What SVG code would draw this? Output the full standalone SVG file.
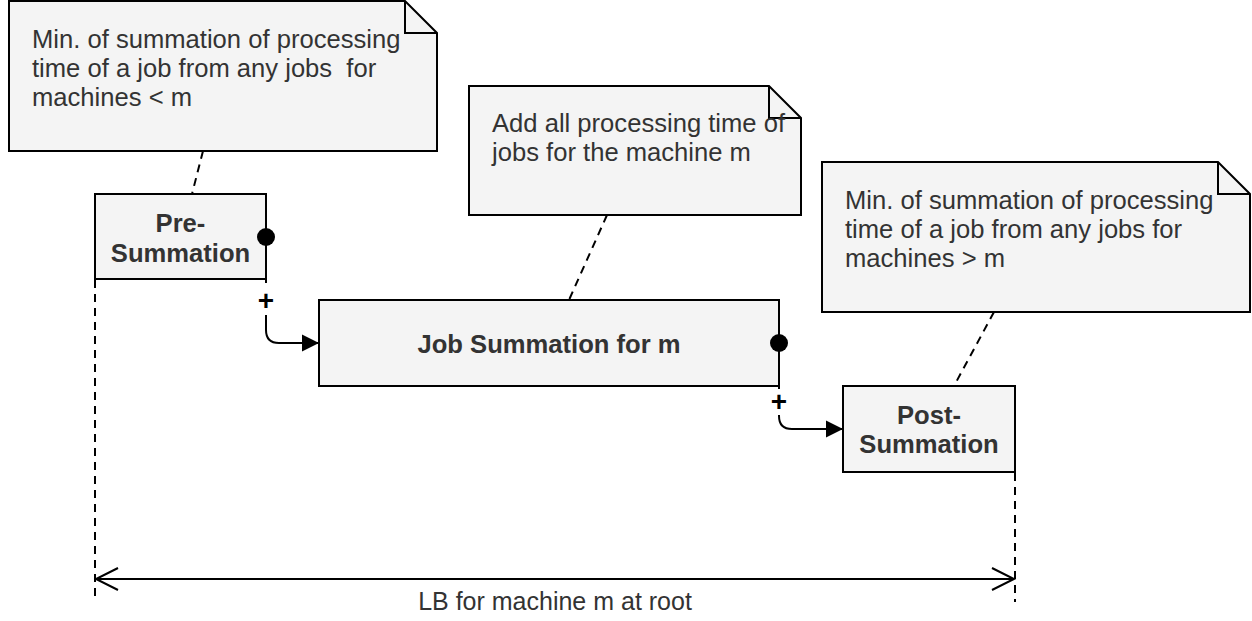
<svg xmlns="http://www.w3.org/2000/svg" width="1252" height="621" viewBox="0 0 1252 621">
  <style>
    .box { fill: #f4f4f4; stroke: #000; stroke-width: 2; }
    .fold { fill: none; stroke: #000; stroke-width: 2; stroke-linejoin: miter; }
    .note-text { font-family: "Liberation Sans", Arial, sans-serif; font-size: 25.6px; fill: #333; }
    .label { font-family: "Liberation Sans", Arial, sans-serif; font-size: 25.6px; font-weight: bold; fill: #333; text-anchor: middle; }
    .plus { font-family: "Liberation Sans", Arial, sans-serif; font-size: 28px; font-weight: bold; fill: #000; text-anchor: middle; }
    .dim-text { font-family: "Liberation Sans", Arial, sans-serif; font-size: 25px; fill: #333; text-anchor: middle; }
    .edge { fill: none; stroke: #000; stroke-width: 2; }
    .dashed { fill: none; stroke: #000; stroke-width: 2; stroke-dasharray: 8 6; }
    .dot { fill: #000; }
  </style>
  <defs>
    <marker id="arrow" markerUnits="userSpaceOnUse" markerWidth="20" markerHeight="20" refX="17" refY="9" orient="auto">
      <path d="M0,0.5 L17,9 L0,17.5 Z" fill="#000"/>
    </marker>
    <marker id="open" markerUnits="userSpaceOnUse" markerWidth="26" markerHeight="26" refX="23" refY="13" orient="auto-start-reverse">
      <path d="M1,2 L23,13 L1,24" fill="none" stroke="#000" stroke-width="2"/>
    </marker>
  </defs>

  <!-- connectors -->
  <g id="connectors">
    <!-- note anchors -->
    <line class="dashed" x1="203" y1="151" x2="192" y2="194"/>
    <line class="dashed" x1="607" y1="215" x2="569" y2="300"/>
    <line class="dashed" x1="994" y1="312" x2="954" y2="386"/>

    <!-- Pre-Summation to Job Summation -->
    <path class="edge" d="M266,237 V283"/>
    <path class="edge" d="M266,315 V330 Q266,343 279,343 H319" marker-end="url(#arrow)"/>
    <text class="plus" x="266" y="310">+</text>

    <!-- Job Summation to Post-Summation -->
    <path class="edge" d="M779,343 V389"/>
    <path class="edge" d="M779,415 V416 Q779,429 792,429 H843" marker-end="url(#arrow)"/>
    <text class="plus" x="779" y="411">+</text>

    <!-- extent lines and dimension -->
    <line class="dashed" x1="95" y1="280" x2="95" y2="602"/>
    <line class="dashed" x1="1015" y1="473" x2="1015" y2="602"/>
    <line class="edge" x1="96" y1="579" x2="1014" y2="579" marker-start="url(#open)" marker-end="url(#open)"/>
    <text class="dim-text" x="555" y="610">LB for machine m at root</text>
  </g>

  <!-- notes -->
  <g id="note-pre">
    <path class="box" d="M9,1 H405 L437,33 V151 H9 Z"/>
    <path class="fold" d="M405,1 V33 H437"/>
    <text class="note-text" x="32" y="48" xml:space="preserve">Min. of summation of processing</text>
    <text class="note-text" x="32" y="77" xml:space="preserve">time of a job from any jobs  for</text>
    <text class="note-text" x="32" y="106">machines &lt; m</text>
  </g>

  <g id="note-job">
    <path class="box" d="M469,86 H769 L801,118 V215 H469 Z"/>
    <path class="fold" d="M769,86 V118 H801"/>
    <text class="note-text" x="492" y="132">Add all processing time of</text>
    <text class="note-text" x="492" y="161">jobs for the machine m</text>
  </g>

  <g id="note-post">
    <path class="box" d="M822,162 H1218 L1250,194 V312 H822 Z"/>
    <path class="fold" d="M1218,162 V194 H1250"/>
    <text class="note-text" x="845" y="209">Min. of summation of processing</text>
    <text class="note-text" x="845" y="238">time of a job from any jobs for</text>
    <text class="note-text" x="845" y="267">machines &gt; m</text>
  </g>

  <!-- process nodes -->
  <g id="pre-summation">
    <rect class="box" x="95" y="194" width="171" height="85"/>
    <text class="label" x="180.5" y="232">Pre-</text>
    <text class="label" x="180.5" y="262">Summation</text>
  </g>

  <g id="job-summation">
    <rect class="box" x="319" y="300" width="460" height="86"/>
    <text class="label" x="549" y="353">Job Summation for m</text>
  </g>

  <g id="post-summation">
    <rect class="box" x="843" y="386" width="172" height="86"/>
    <text class="label" x="929" y="424">Post-</text>
    <text class="label" x="929" y="453">Summation</text>
  </g>

  <!-- port dots drawn above node borders -->
  <g id="port-dots">
    <circle class="dot" cx="266" cy="237" r="9"/>
    <circle class="dot" cx="779" cy="343" r="9"/>
  </g>
</svg>
